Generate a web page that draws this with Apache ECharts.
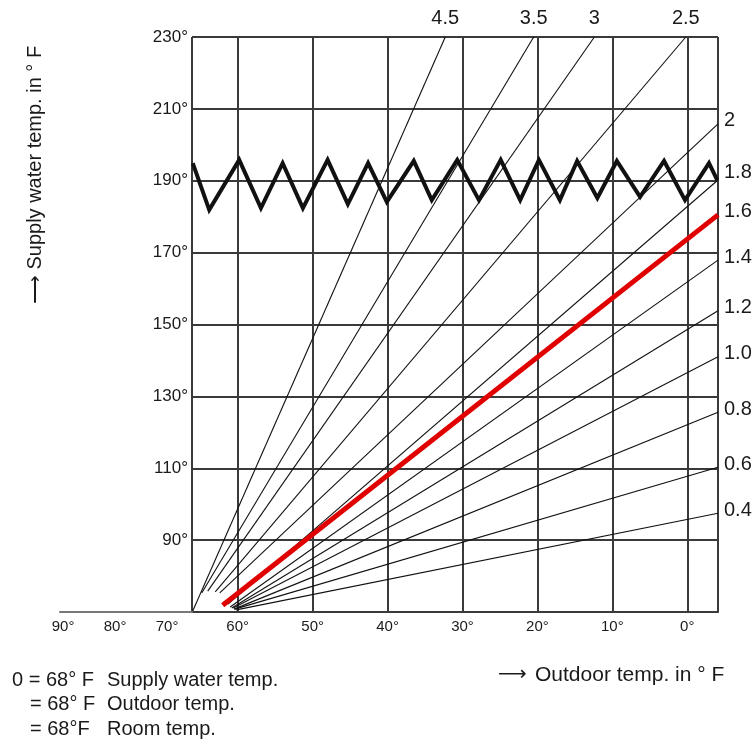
<!DOCTYPE html>
<html><head><meta charset="utf-8">
<script src="https://cdn.jsdelivr.net/npm/echarts@6/dist/echarts.min.js"></script>
<style>html,body{margin:0;padding:0;background:#fff}#c{width:754px;height:742px}</style>
</head><body><div id="c"></div>
<script>
// Heating curve slopes (labels) and their start / end points [outdoor °F, supply °F]
const curveNames = ['4.5','3.5','3','2.5','2','1.8','1.6','1.4','1.2','1.0','0.8','0.6','0.4'];
const curveStart = [[66.0,70.3],[64.8,75.3],[64.0,75.8],[63.0,75.6],[62.4,75.3],[61.3,72.2],[62.0,71.9],[61.0,71.4],[60.8,71.1],[60.6,71.1],[60.5,70.8],[60.4,70.8],[60.2,70.6]];
const curveEnd = [[32.3,230],[20.5,230],[12.4,230],[0.2,230],[-4.1,205.8],[-4.1,190.2],[-4.1,180.5],[-4.1,167.9],[-4.1,153.8],[-4.1,141.0],[-4.1,125.6],[-4.1,110.3],[-4.1,97.5]];
const highlightedCurve = '1.6';
// Maximum supply temperature limit (zigzag)
const zigzag = [[66.0,194.9],[63.8,181.9],[59.8,195.8],[56.9,182.4],[54.0,194.9],[51.3,182.4],[48.0,195.8],[45.3,183.5],[42.6,194.9],[40.1,184.1],[36.5,195.5],[34.1,184.6],[30.7,195.8],[27.8,184.6],[24.9,195.8],[22.3,184.6],[19.8,195.8],[17.0,184.6],[14.7,195.5],[12.0,185.2],[9.4,195.5],[6.3,185.5],[3.1,195.5],[0.3,184.6],[-2.9,194.9],[-4.0,190.2]];
// Axis ranges
const xMain = {min: -4.1, max: 66.1};
const xStub = {min: 65.2, max: 90.6};
const yRange = {min: 70, max: 230, step: 20};
const yTitle = 'Supply water temp. in ° F';
const xTitle = 'Outdoor temp. in ° F';
const legendLines = [['0 = 68° F', 'Supply water temp.'], ['= 68° F', 'Outdoor temp.'], ['= 68°F', 'Room temp.']];

const FONT = '"Liberation Sans", Arial, sans-serif';
const TXT = '#1a1a1a';
const GRIDC = '#3a3a3a';
const deg = v => (Math.abs(v % 10) < 1e-6 ? Math.round(v) + '°' : '');

const chart = echarts.init(document.getElementById('c'), null, {renderer: 'canvas'});

const series = [];
curveNames.forEach((n, i) => {
  const hl = n === highlightedCurve;
  series.push({
    type: 'line', xAxisIndex: 0, yAxisIndex: 0, name: n,
    data: [curveStart[i], curveEnd[i]],
    showSymbol: false, symbol: 'none', silent: true, clip: false,
    z: hl ? 4 : 3,
    lineStyle: {color: hl ? '#e00000' : '#111', width: hl ? 5 : 1.1}
  });
});
series.push({
  type: 'line', xAxisIndex: 0, yAxisIndex: 0, name: 'limit',
  data: zigzag, showSymbol: false, symbol: 'none', silent: true, z: 5,
  lineStyle: {color: '#111', width: 4, join: 'miter', cap: 'butt'}
});
series.push({
  type: 'scatter', xAxisIndex: 0, yAxisIndex: 0, name: 'labels',
  symbolSize: 0, silent: true, clip: false, z: 6,
  itemStyle: {opacity: 1},
  data: curveEnd.map((e, i) => ({
    value: e, name: curveNames[i],
    label: e[1] >= yRange.max
      ? {position: 'top', distance: 9, offset: [0, 0]}
      : {position: 'right', distance: 6, offset: [0, curveNames[i] === '1.8' ? -8 : -3]}
  })),
  label: {show: true, formatter: p => p.name, color: TXT, opacity: 1, fontSize: 20, fontFamily: FONT}
});

const graphic = [
  {type: 'text', x: 35, y: 175, rotation: Math.PI / 2,
   style: {text: '⟶ ' + yTitle, font: '20px ' + FONT, fill: TXT, align: 'center', verticalAlign: 'middle'}},
  {type: 'text', x: 498, y: 675,
   style: {text: '⟶', font: '20px "DejaVu Sans", sans-serif', fill: TXT, align: 'left', verticalAlign: 'middle'}},
  {type: 'text', x: 535, y: 675,
   style: {text: xTitle, font: '21px ' + FONT, fill: TXT, align: 'left', verticalAlign: 'middle'}}
];
legendLines.forEach((l, i) => {
  graphic.push({type: 'text', x: i === 0 ? 12 : 30, y: 680 + i * 24.5,
    style: {text: l[0], font: '20px ' + FONT, fill: TXT, align: 'left', verticalAlign: 'middle'}});
  graphic.push({type: 'text', x: 107, y: 680 + i * 24.5,
    style: {text: l[1], font: '20px ' + FONT, fill: TXT, align: 'left', verticalAlign: 'middle'}});
});

chart.setOption({
  animation: false,
  backgroundColor: '#fff',
  grid: [
    {left: 192, right: 36, top: 37, bottom: 130, outerBoundsMode: 'none', containLabel: false},
    {left: 60, width: 132, top: 37, bottom: 130, outerBoundsMode: 'none', containLabel: false}
  ],
  xAxis: [
    {gridIndex: 0, type: 'value', inverse: true, min: xMain.min, max: xMain.max, splitNumber: 7,
     axisLine: {show: true, onZero: false, lineStyle: {color: GRIDC, width: 2}},
     axisTick: {show: false},
     axisLabel: {formatter: deg, showMinLabel: false, showMaxLabel: false, color: TXT, fontSize: 15, fontFamily: FONT, margin: 7},
     splitLine: {show: true, lineStyle: {color: GRIDC, width: 2}}},
    {gridIndex: 1, type: 'value', inverse: true, min: xStub.min, max: xStub.max, splitNumber: 3,
     axisLine: {show: true, onZero: false, lineStyle: {color: '#777', width: 2}},
     axisTick: {show: false},
     axisLabel: {formatter: deg, showMinLabel: false, showMaxLabel: false, color: TXT, fontSize: 15, fontFamily: FONT, margin: 7},
     splitLine: {show: false}}
  ],
  yAxis: [
    {gridIndex: 0, type: 'value', min: yRange.min, max: yRange.max, interval: yRange.step,
     axisLine: {show: true, lineStyle: {color: GRIDC, width: 2}},
     axisTick: {show: false},
     axisLabel: {formatter: v => (v === yRange.min ? '' : v + '°'), color: TXT, fontSize: 17, fontFamily: FONT, margin: 4},
     splitLine: {show: true, lineStyle: {color: GRIDC, width: 2}}},
    {gridIndex: 1, type: 'value', min: yRange.min, max: yRange.max, show: false}
  ],
  series: series,
  graphic: graphic
});
</script></body></html>
